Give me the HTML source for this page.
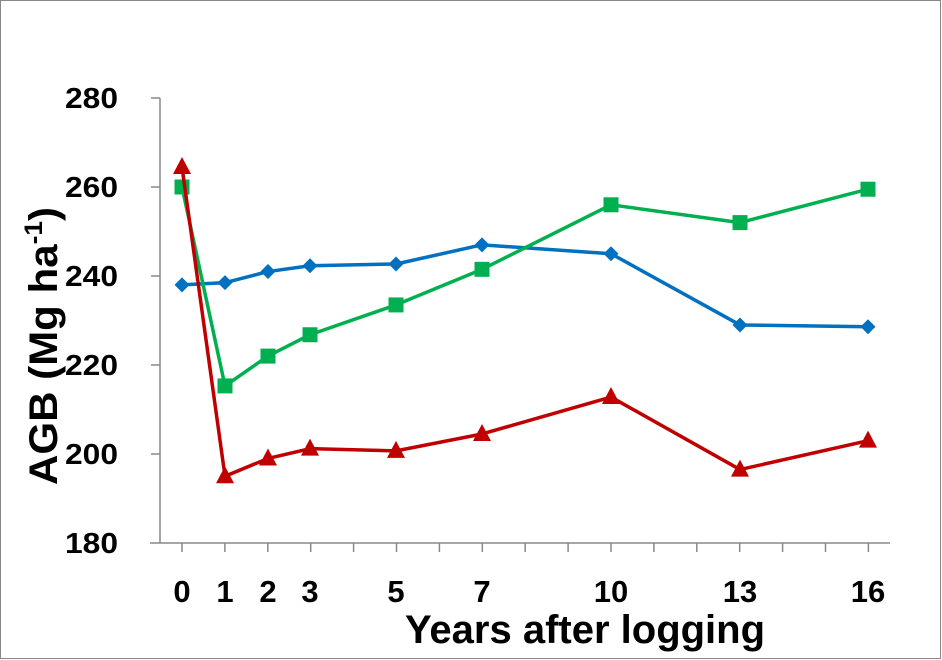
<!DOCTYPE html><html><head><style>body{margin:0;background:#fff}svg{display:block}text{font-family:"Liberation Sans",Arial,sans-serif;font-weight:bold;fill:#000}</style></head><body>
<svg width="942" height="660" viewBox="0 0 942 660">
<rect x="0.5" y="0.5" width="940" height="658" fill="#fff" stroke="#888"/>
<g stroke="#888" stroke-width="1.5">
<line x1="160" y1="98" x2="160" y2="543"/>
<line x1="150" y1="543" x2="890" y2="543"/>
<line x1="151" y1="98" x2="160" y2="98"/><line x1="151" y1="187" x2="160" y2="187"/><line x1="151" y1="276" x2="160" y2="276"/><line x1="151" y1="365" x2="160" y2="365"/><line x1="151" y1="454" x2="160" y2="454"/>
</g>
<g stroke="#888" stroke-width="1.5" id="xt"></g>
<g font-size="29" text-anchor="end">
<text x="118" y="108" textLength="53" lengthAdjust="spacingAndGlyphs">280</text><text x="118" y="197" textLength="53" lengthAdjust="spacingAndGlyphs">260</text><text x="118" y="286" textLength="53" lengthAdjust="spacingAndGlyphs">240</text><text x="118" y="375" textLength="53" lengthAdjust="spacingAndGlyphs">220</text><text x="118" y="464" textLength="53" lengthAdjust="spacingAndGlyphs">200</text><text x="118" y="553" textLength="53" lengthAdjust="spacingAndGlyphs">180</text>
</g>
<g font-size="31" text-anchor="middle">
<text x="182" y="602">0</text><text x="225" y="602">1</text><text x="268" y="602">2</text><text x="310" y="602">3</text><text x="396" y="602">5</text><text x="482" y="602">7</text><text x="611" y="602">10</text><text x="740" y="602">13</text><text x="868" y="602">16</text>
</g>
<text x="585" y="643" font-size="40" text-anchor="middle">Years after logging</text>
<text transform="translate(57,346) rotate(-90)" font-size="40" text-anchor="middle" textLength="278" lengthAdjust="spacingAndGlyphs">AGB (Mg ha<tspan font-size="25" dy="-15">-1</tspan><tspan dy="15">)</tspan></text>
<g id="s"></g>
</svg>
<script>
var xs=[182,225,268,310,396,482,611,740,868];
var y=v=>543-(v-180)*4.45;
var ns="http://www.w3.org/2000/svg";
var xt=document.getElementById('xt');
for(var k=0;k<=16;k++){var l=document.createElementNS(ns,'line');var x=182+42.9*k;l.setAttribute('x1',x);l.setAttribute('x2',x);l.setAttribute('y1',543);l.setAttribute('y2',552);xt.appendChild(l);}
var S=[["#0070c0",[238,238.5,241,242.3,242.7,247,245,229,228.6],"d"],["#00b050",[260,215.3,222,226.8,233.5,241.5,256,252,259.5],"s"],["#c00000",[264.5,195,199,201.2,200.7,204.5,212.8,196.5,203],"t"]];
var g=document.getElementById('s'),h='';
S.forEach(function(s){var p=s[1].map((v,i)=>xs[i]+','+y(v)).join(' ');
h+='<polyline points="'+p+'" fill="none" stroke="'+s[0]+'" stroke-width="3.5" stroke-linejoin="round"/>';
s[1].forEach(function(v,i){var X=xs[i],Y=y(v);
if(s[2]=='d')h+='<polygon points="'+X+','+(Y-7.5)+' '+(X+7.5)+','+Y+' '+X+','+(Y+7.5)+' '+(X-7.5)+','+Y+'" fill="'+s[0]+'"/>';
else if(s[2]=='s')h+='<rect x="'+(X-7.5)+'" y="'+(Y-7.5)+'" width="15" height="15" fill="'+s[0]+'"/>';
else h+='<polygon points="'+X+','+(Y-10)+' '+(X+9)+','+(Y+7)+' '+(X-9)+','+(Y+7)+'" fill="'+s[0]+'"/>';});});
g.innerHTML=h;
</script>
</body></html>
